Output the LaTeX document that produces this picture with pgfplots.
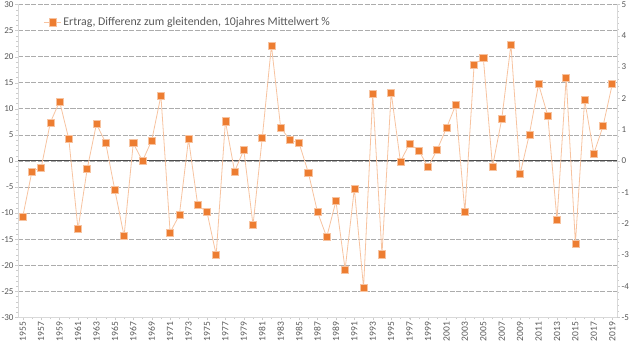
\documentclass[border=0pt]{standalone}
\usepackage{pgfplots}
\pgfplotsset{compat=1.18}
\usepackage{fontspec}
\setmainfont{Carlito}
\definecolor{ora}{HTML}{ED7D31}
\definecolor{oral}{HTML}{F7C3A0}
\definecolor{tcol}{HTML}{595959}
\begin{document}
\begin{tikzpicture}
\begin{axis}[
  scale only axis, width=595bp, height=311bp,
  xmin=1954.5, xmax=2019.5, ymin=-30, ymax=30,
  xtick={1955,1957,...,2019}, minor xtick={1955,...,2019},
  ytick={-30,-25,...,30}, minor y tick num=4,
  /pgf/number format/assume math mode=true,
  /pgf/number format/1000 sep={},
  x tick label style={rotate=90, anchor=east, font=\fontsize{9.5}{10}\selectfont, text=tcol, inner sep=1.5bp},
  y tick label style={font=\fontsize{9}{10}\selectfont, text=tcol, inner sep=1.5bp},
  axis x line*=bottom, axis y line*=left,
  tick align=outside,
  major tick length=3bp, minor tick length=2bp,
  axis line style={gray!30, line width=0.7pt},
  tick style={gray!40},
  ymajorgrids,
  major grid style={gray!65, line width=0.6pt, dash pattern=on 5bp off 1.5bp},
  extra y ticks={0}, extra y tick labels={},
  extra y tick style={major grid style={solid, black!70, line width=1.1pt}, tick style={draw=none}},
  legend style={at={(0.037,0.972)}, anchor=north west, draw=none, fill=none,
    font=\fontsize{11.8}{13}\selectfont, text=tcol},
  legend cell align=left,
]
\addplot[color=oral, line width=0.8pt, mark=square*, mark size=3.5bp,
  mark options={fill=ora, draw=oral, line width=0.6pt}] coordinates {
(1955,-10.7) (1956,-2.0) (1957,-1.3) (1958,7.4) (1959,11.4) (1960,4.2)
(1961,-13.1) (1962,-1.5) (1963,7.1) (1964,3.5) (1965,-5.6) (1966,-14.4)
(1967,3.4) (1968,0.0) (1969,3.9) (1970,12.5) (1971,-13.7) (1972,-10.4)
(1973,4.2) (1974,-8.5) (1975,-9.8) (1976,-18.0) (1977,7.6) (1978,-2.0)
(1979,2.1) (1980,-12.3) (1981,4.4) (1982,22.1) (1983,6.4) (1984,4.0)
(1985,3.4) (1986,-2.2) (1987,-9.8) (1988,-14.6) (1989,-7.7) (1990,-20.8)
(1991,-5.3) (1992,-24.3) (1993,12.8) (1994,-17.9) (1995,13.1) (1996,-0.1)
(1997,3.3) (1998,2.0) (1999,-1.2) (2000,2.2) (2001,6.3) (2002,10.7)
(2003,-9.8) (2004,18.4) (2005,19.8) (2006,-1.1) (2007,8.0) (2008,22.3)
(2009,-2.5) (2010,5.1) (2011,14.7) (2012,8.7) (2013,-11.3) (2014,16.0)
(2015,-15.8) (2016,11.7) (2017,1.4) (2018,6.7) (2019,14.7)
};
\addlegendentry{Ertrag, Differenz zum gleitenden, 10jahres Mittelwert \%}
\end{axis}
\begin{axis}[
  scale only axis, width=595bp, height=311bp,
  xmin=1954.5, xmax=2019.5, ymin=-5, ymax=5,
  axis x line=none, axis y line*=right,
  ytick={-5,...,5}, minor y tick num=4,
  /pgf/number format/assume math mode=true,
  y tick label style={font=\fontsize{9}{10}\selectfont, text=tcol, inner sep=1.5bp},
  tick align=outside,
  major tick length=3bp, minor tick length=2bp,
  axis line style={gray!30, line width=0.7pt},
  tick style={gray!40},
]
\end{axis}
\path (current axis.north east) ++(23bp,0pt);
\end{tikzpicture}
\end{document}
